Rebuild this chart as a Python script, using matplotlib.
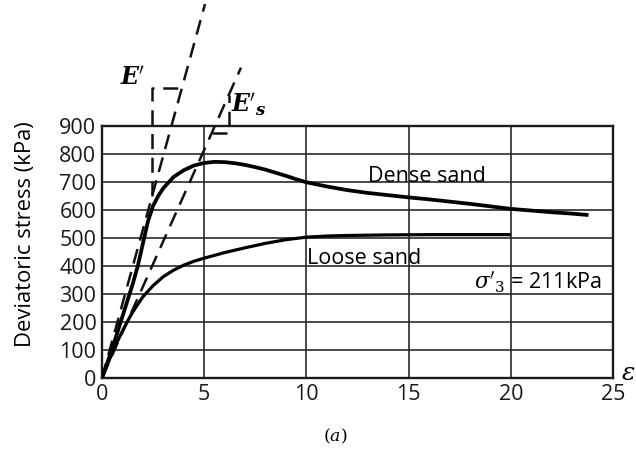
import matplotlib
matplotlib.use("Agg")
import matplotlib.pyplot as plt

# ---- data ----
dense_strain = [0, 0.5, 1.0, 1.5, 1.75, 2.0, 2.25, 2.5, 2.75, 3.0, 3.5, 4.0, 4.5, 5.0, 5.5, 6.0, 6.5, 7.0, 7.5, 8.0, 8.5, 9.0, 9.5, 10.0, 11.0, 12.0, 13.0, 14.0, 15.0, 16.0, 17.0, 18.0, 19.0, 20.0, 21.0, 22.0, 23.0, 23.8]
dense_stress = [0, 105, 220, 335, 400, 480, 560, 615, 650, 678, 718, 742, 759, 768, 772, 771, 767, 761, 753, 744, 733, 722, 710, 699, 684, 671, 661, 653, 645, 638, 630, 622, 613, 604, 598, 592, 587, 582]
loose_strain = [0, 0.25, 0.5, 0.75, 1.0, 1.25, 1.5, 1.75, 2.0, 2.5, 3.0, 3.5, 4.0, 4.5, 5.0, 6.0, 7.0, 8.0, 9.0, 10.0, 11.0, 12.0, 14.0, 16.0, 18.0, 20.0]
loose_stress = [0, 45, 90, 130, 168, 203, 235, 263, 290, 330, 362, 385, 403, 417, 428, 448, 465, 481, 494, 503, 507, 509, 511, 512, 512, 512]

E_tangent_slope = 265.0   # kPa per % strain (E')
E_secant_slope = 163.0    # kPa per % strain (E's)
E_tangent_end = 5.04
E_secant_end = 6.8

x_ticks = [0, 5, 10, 15, 20, 25]
y_ticks = [0, 100, 200, 300, 400, 500, 600, 700, 800, 900]

plt.rcParams['font.family'] = ['Open Sans', 'DejaVu Sans']
plt.rcParams['mathtext.fontset'] = 'dejavuserif'

fig = plt.figure(figsize=(6.36, 4.53), dpi=100)
ax = fig.add_axes([102/636, 1 - 378/453, (613-102)/636, (378-126)/453])
ax.set_xlim(0, 25)
ax.set_ylim(0, 900)
ax.set_xticks(x_ticks)
ax.set_yticks(y_ticks)
ax.tick_params(length=0, labelsize=15.5, pad=4, colors='#1a1a1a')
ax.grid(True, color='#2a2a2a', lw=1.2)
ax.set_axisbelow(True)
for s in ax.spines.values():
    s.set_linewidth(1.7)
    s.set_color('#1a1a1a')

ax.plot(dense_strain, dense_stress, color='black', lw=2.7, solid_capstyle='butt',
        solid_joinstyle='round', zorder=4)
ax.plot(loose_strain, loose_stress, color='black', lw=2.3, solid_capstyle='butt',
        solid_joinstyle='round', zorder=4)

dash = (6, 3.5)
lwd = 1.8
kw = dict(color='#111', lw=lwd, ls=(0, dash), clip_on=False, zorder=3)
# E' tangent line
ax.plot([0, E_tangent_end], [0, E_tangent_slope*E_tangent_end], **kw)
# E's secant line
ax.plot([0, E_secant_end], [0, E_secant_slope*E_secant_end], **kw)
# slope triangle for E'
xa = 2.45
ytop = 1036
ax.plot([xa, xa, ytop/E_tangent_slope], [xa*E_tangent_slope, ytop, ytop], **kw)
# slope triangle for E's
xb = 6.2
ybot = 875
ax.plot([ybot/E_secant_slope, xb, xb], [ybot, ybot, xb*E_secant_slope], **kw)

ax.text(1.5, 1064, r"$\mathbfit{E}'$", fontsize=17, ha='center', va='center', clip_on=False)
ax.text(7.15, 975, r"$\mathbfit{E}'_{\mathbfit{s}}$", fontsize=17, ha='center', va='center', clip_on=False)

ax.text(15.9, 721, "Dense sand", fontsize=15.5, ha='center', va='center')
ax.text(12.84, 428, "Loose sand", fontsize=15.5, ha='center', va='center')
ax.text(21.3, 343, r"$\sigma'_3$ = 211kPa", fontsize=15.5, ha='center', va='center')

fig.text(628/636, 1 - 374/453, r"$\varepsilon$", fontsize=18, ha='center', va='center')
fig.text(335/636, 1 - 436/453, r"$(a)$", fontsize=12.5, ha='center', va='center')
fig.text(26/636, 1 - 234/453, "Deviatoric stress (kPa)", fontsize=15.8, rotation=90,
         ha='center', va='center')

fig.savefig("out.png", dpi=100, facecolor='white')
